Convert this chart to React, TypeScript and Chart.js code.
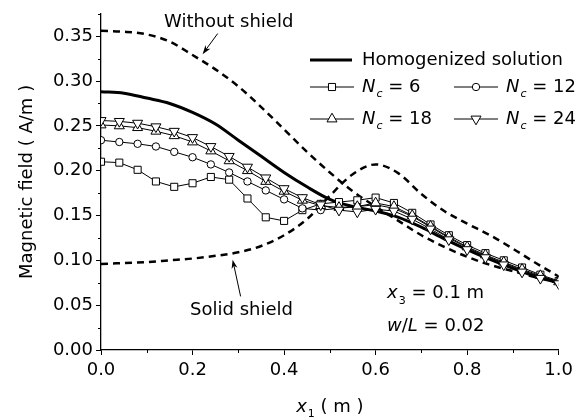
import React, { useEffect, useRef } from 'react';
import { Chart, registerables } from 'chart.js';
import { drawPoint } from 'chart.js/helpers';

Chart.register(...registerables);

const FONT = "'DejaVu Sans', sans-serif";
const FS = 18;

// marker series sampled at x = 0, 0.04, ..., 1.0
const markerX = [0, 0.04, 0.08, 0.12, 0.16, 0.2, 0.24, 0.28, 0.32, 0.36, 0.4, 0.44, 0.48, 0.52, 0.56, 0.6, 0.64, 0.68, 0.72, 0.76, 0.8, 0.84, 0.88, 0.92, 0.96, 1.0];
const nc6 = [0.210, 0.209, 0.201, 0.188, 0.182, 0.186, 0.193, 0.190, 0.169, 0.148, 0.144, 0.156, 0.163, 0.165, 0.167, 0.170, 0.164, 0.153, 0.140, 0.128, 0.117, 0.108, 0.100, 0.092, 0.084, 0.077];
const nc12 = [0.234, 0.232, 0.230, 0.227, 0.221, 0.215, 0.207, 0.198, 0.188, 0.178, 0.168, 0.158, 0.156, 0.158, 0.160, 0.162, 0.158, 0.149, 0.137, 0.125, 0.114, 0.105, 0.097, 0.089, 0.082, 0.076];
const nc18 = [0.251, 0.250, 0.248, 0.244, 0.239, 0.232, 0.222, 0.211, 0.200, 0.188, 0.177, 0.167, 0.161, 0.159, 0.160, 0.164, 0.160, 0.150, 0.138, 0.126, 0.115, 0.106, 0.098, 0.090, 0.083, 0.076];
const nc24 = [0.256, 0.255, 0.253, 0.249, 0.244, 0.237, 0.227, 0.216, 0.204, 0.192, 0.180, 0.170, 0.162, 0.156, 0.154, 0.157, 0.155, 0.146, 0.135, 0.123, 0.112, 0.103, 0.095, 0.087, 0.080, 0.074];

// smooth curves sampled at x = 0, 0.05, ..., 1.0
const curveX = [0, 0.05, 0.1, 0.15, 0.2, 0.25, 0.3, 0.35, 0.4, 0.45, 0.5, 0.55, 0.6, 0.65, 0.7, 0.75, 0.8, 0.85, 0.9, 0.95, 1.0];
const homogenized = [0.288, 0.2865, 0.281, 0.275, 0.265, 0.252, 0.234, 0.216, 0.198, 0.182, 0.168, 0.160, 0.155, 0.148, 0.137, 0.124, 0.112, 0.101, 0.091, 0.082, 0.075];
const withoutShield = [0.356, 0.355, 0.352, 0.344, 0.329, 0.313, 0.294, 0.271, 0.246, 0.221, 0.198, 0.177, 0.160, 0.144, 0.128, 0.115, 0.104, 0.095, 0.088, 0.081, 0.075];
const solidShield = [0.096, 0.097, 0.098, 0.100, 0.102, 0.105, 0.109, 0.116, 0.128, 0.146, 0.172, 0.196, 0.207, 0.197, 0.174, 0.155, 0.141, 0.128, 0.113, 0.097, 0.082];

const xTickLabels = ['0.0', '0.2', '0.4', '0.6', '0.8', '1.0'];
const yTickLabels = ['0.00', '0.05', '0.10', '0.15', '0.20', '0.25', '0.30', '0.35'];

const seriesLabels = ['6', '12', '18', '24'];

type Seg = { t: string; it?: boolean; sub?: boolean };

function segFont(s: Seg) {
  const size = s.sub ? Math.round(FS * 0.62) : FS;
  return `${s.it ? 'italic ' : ''}${size}px ${FONT}`;
}

function drawRich(ctx: CanvasRenderingContext2D, x: number, y: number, segs: Seg[], align: 'left' | 'center' = 'left') {
  let total = 0;
  for (const s of segs) {
    ctx.font = segFont(s);
    total += ctx.measureText(s.t).width + (s.sub ? 1 : 0);
  }
  let cx = align === 'center' ? x - total / 2 : x;
  ctx.textAlign = 'left';
  ctx.textBaseline = 'middle';
  for (const s of segs) {
    ctx.font = segFont(s);
    ctx.fillText(s.t, cx + (s.sub ? 1 : 0), y + (s.sub ? FS * 0.42 : 0));
    cx += ctx.measureText(s.t).width + (s.sub ? 1 : 0);
  }
}

function arrow(ctx: CanvasRenderingContext2D, x0: number, y0: number, x1: number, y1: number) {
  const ang = Math.atan2(y1 - y0, x1 - x0);
  const hl = 9, hw = 3;
  ctx.lineWidth = 1;
  ctx.setLineDash([]);
  ctx.beginPath();
  ctx.moveTo(x0, y0);
  ctx.lineTo(x1 - Math.cos(ang) * hl * 0.6, y1 - Math.sin(ang) * hl * 0.6);
  ctx.stroke();
  ctx.beginPath();
  ctx.moveTo(x1, y1);
  ctx.lineTo(x1 - Math.cos(ang) * hl - Math.sin(ang) * hw, y1 - Math.sin(ang) * hl + Math.cos(ang) * hw);
  ctx.lineTo(x1 - Math.cos(ang) * hl * 0.7, y1 - Math.sin(ang) * hl * 0.7);
  ctx.lineTo(x1 - Math.cos(ang) * hl + Math.sin(ang) * hw, y1 - Math.sin(ang) * hl - Math.cos(ang) * hw);
  ctx.closePath();
  ctx.fill();
}

const isMajor = (labels: string[], v: number) => labels.some((l) => Math.abs(parseFloat(l) - v) < 1e-6);

const annotPlugin = {
  id: 'annot',
  afterDraw(chart: any) {
    const ctx: CanvasRenderingContext2D = chart.ctx;
    const xs = chart.scales.x;
    const ys = chart.scales.y;
    const px = (v: number) => xs.getPixelForValue(v);
    const py = (v: number) => ys.getPixelForValue(v);
    const area = chart.chartArea;
    ctx.save();
    ctx.fillStyle = '#000';
    ctx.strokeStyle = '#000';

    // minor ticks (shorter)
    ctx.lineWidth = 1;
    ctx.beginPath();
    for (const t of xs.ticks) {
      if (!isMajor(xTickLabels, t.value)) {
        const x = Math.round(px(t.value)) + 0.5;
        ctx.moveTo(x, area.bottom);
        ctx.lineTo(x, area.bottom + 3);
      }
    }
    for (const t of ys.ticks) {
      if (!isMajor(yTickLabels, t.value)) {
        const y = Math.round(py(t.value)) + 0.5;
        ctx.moveTo(area.left, y);
        ctx.lineTo(area.left - 3, y);
      }
    }
    ctx.stroke();

    // x-axis title
    drawRich(ctx, (area.left + area.right) / 2, 407, [
      { t: 'x', it: true }, { t: '1', sub: true }, { t: ' ( m )' },
    ], 'center');

    // annotations
    drawRich(ctx, px(0.279), py(0.3655), [{ t: 'Without shield' }], 'center');
    arrow(ctx, px(0.255), py(0.353), px(0.222), py(0.330));
    drawRich(ctx, px(0.307), py(0.0443), [{ t: 'Solid shield' }], 'center');
    arrow(ctx, px(0.305), py(0.0598), px(0.2876), py(0.1008));
    drawRich(ctx, px(0.625), py(0.063), [
      { t: 'x', it: true }, { t: '3', sub: true }, { t: ' = 0.1 m' },
    ]);
    drawRich(ctx, px(0.625), py(0.0266), [
      { t: 'w', it: true }, { t: '/' }, { t: 'L', it: true }, { t: ' = 0.02' },
    ]);

    // legend
    const ds = chart.data.datasets;
    ctx.setLineDash([]);
    ctx.lineWidth = ds[4].borderWidth;
    ctx.beginPath();
    ctx.moveTo(310, 60);
    ctx.lineTo(352, 60);
    ctx.stroke();
    drawRich(ctx, 362, 60, [{ t: 'Homogenized solution' }]);

    const slots = [
      { i: 0, lx: 310, y: 87, tx: 362 },
      { i: 1, lx: 454, y: 87, tx: 506 },
      { i: 2, lx: 310, y: 119, tx: 362 },
      { i: 3, lx: 454, y: 119, tx: 506 },
    ];
    for (const s of slots) {
      const d = ds[s.i];
      ctx.lineWidth = 1;
      ctx.strokeStyle = '#000';
      ctx.beginPath();
      ctx.moveTo(s.lx, s.y);
      ctx.lineTo(s.lx + 44, s.y);
      ctx.stroke();
      ctx.fillStyle = '#fff';
      ctx.strokeStyle = '#000';
      ctx.lineWidth = 1;
      drawPoint(ctx, { pointStyle: d.pointStyle, rotation: d.pointRotation || 0, radius: d.pointRadius, borderWidth: 1 }, s.lx + 22, s.y);
      ctx.fillStyle = '#000';
      drawRich(ctx, s.tx, s.y, [{ t: 'N', it: true }, { t: 'c', it: true, sub: true }, { t: ' = ' + seriesLabels[s.i] }]);
    }
    ctx.restore();
  },
};

export default function App() {
  const ref = useRef<HTMLCanvasElement | null>(null);
  useEffect(() => {
    if (!ref.current) return;
    const mk = (vals: number[], style: string, radius: number, rot: number, order: number) => ({
      label: 'N_c',
      data: markerX.map((x, i) => ({ x, y: vals[i] })),
      borderColor: '#000',
      borderWidth: 1,
      pointStyle: style,
      pointRadius: radius,
      pointRotation: rot,
      pointBackgroundColor: '#fff',
      pointBorderColor: '#000',
      pointBorderWidth: 1,
      tension: 0,
      order,
    });
    const curve = (vals: number[], dash: number[], width: number, order: number, label: string) => ({
      label,
      data: curveX.map((x, i) => ({ x, y: vals[i] })),
      borderColor: '#000',
      borderWidth: width,
      borderDash: dash,
      pointRadius: 0,
      cubicInterpolationMode: 'monotone',
      order,
    });
    const majorTickColor = (labels: string[]) => (c: any) =>
      c.tick && isMajor(labels, c.tick.value) ? '#000' : 'rgba(0,0,0,0)';
    const chart = new Chart(ref.current, {
      type: 'line',
      data: {
        datasets: [
          mk(nc6, 'rect', 5, 0, 3),
          mk(nc12, 'circle', 3.7, 0, 2),
          mk(nc18, 'triangle', 5.8, 0, 1),
          mk(nc24, 'triangle', 5.8, 180, 0),
          curve(homogenized, [], 3, 5, 'Homogenized solution'),
          curve(withoutShield, [7, 5], 2.5, 6, 'Without shield'),
          curve(solidShield, [7, 5], 2.5, 6, 'Solid shield'),
        ] as any,
      },
      options: {
        responsive: false,
        animation: false,
        events: [],
        layout: { padding: { top: 11, right: 18, left: 0, bottom: 0 } },
        plugins: { legend: { display: false }, tooltip: { enabled: false } },
        scales: {
          x: {
            type: 'linear',
            min: 0,
            max: 1,
            afterFit: (s: any) => { s.height = 70; },
            grid: { drawOnChartArea: false, drawTicks: true, tickLength: 5, tickColor: majorTickColor(xTickLabels), tickWidth: 1 },
            border: { display: true, color: '#000', width: 1.3 },
            ticks: {
              stepSize: 0.1,
              autoSkip: false,
              maxRotation: 0,
              padding: 5,
              color: '#000',
              font: { family: FONT, size: FS },
              callback: (v: any) => xTickLabels.find((l) => Math.abs(parseFloat(l) - Number(v)) < 1e-6) ?? '',
            },
          },
          y: {
            type: 'linear',
            min: 0,
            max: 0.375,
            afterFit: (s: any) => { s.width = 101; },
            grid: { drawOnChartArea: false, drawTicks: true, tickLength: 5, tickColor: majorTickColor(yTickLabels), tickWidth: 1 },
            border: { display: true, color: '#000', width: 1.3 },
            title: {
              display: true,
              text: 'Magnetic field ( A/m )',
              color: '#000',
              font: { family: FONT, size: FS },
              padding: { top: 17, bottom: 0 },
            },
            ticks: {
              stepSize: 0.025,
              autoSkip: false,
              padding: 3,
              color: '#000',
              font: { family: FONT, size: FS },
              callback: (v: any) => yTickLabels.find((l) => Math.abs(parseFloat(l) - Number(v)) < 1e-6) ?? '',
            },
          },
        },
      } as any,
      plugins: [annotPlugin],
    });
    return () => chart.destroy();
  }, []);
  return (
    <div style={{ position: 'fixed', left: 0, top: 0, width: 578, height: 420, background: '#fff' }}>
      <canvas ref={ref} width={578} height={420} style={{ display: 'block', width: 578, height: 420 }} />
    </div>
  );
}
